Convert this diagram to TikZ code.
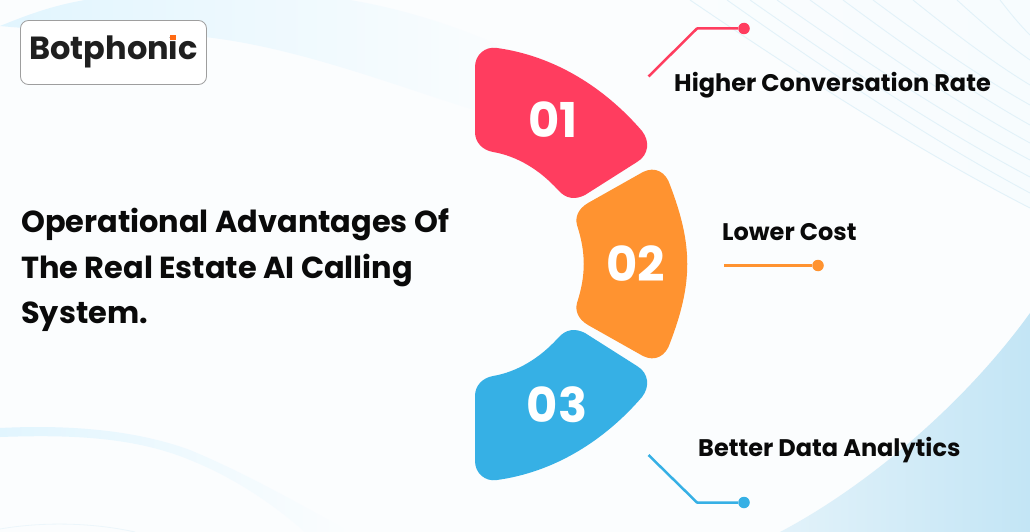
\documentclass[tikz,border=0pt]{standalone}
\usepackage{fontspec}
\setmainfont{Poppins}
\usetikzlibrary{calc}
\definecolor{bgc}{HTML}{FBFDFE}
\definecolor{red1}{HTML}{FF3D5F}
\definecolor{org1}{HTML}{FF9330}
\definecolor{blu1}{HTML}{36B0E5}
\definecolor{swoosh}{HTML}{E1F5FE}
\definecolor{thinl}{HTML}{E2F2F9}
\definecolor{paleb}{HTML}{F7FCFE}
\definecolor{txt}{HTML}{0A0A0A}
\definecolor{brandor}{HTML}{FF6A13}
\tikzset{
  num/.style={font=\fontsize{48}{48}\selectfont\bfseries,text=white,inner sep=0pt},
  lab/.style={font=\fontsize{24}{24}\selectfont\bfseries,text=txt,inner sep=0pt,anchor=base west},
  ttl/.style={font=\fontsize{30.4}{30.4}\selectfont\bfseries,text=txt,inner sep=0pt,anchor=base west},
  dot/.style={circle,minimum size=11.5pt,inner sep=0pt},
  wire/.style={line width=2.5pt,line join=round},
}
\begin{document}
\begin{tikzpicture}[x=1pt,y=-1pt]
\useasboundingbox (0,0) rectangle (1030,532);
\fill[bgc] (0,0) rectangle (1030,532);
% pale upper-right wash
\shade[left color=bgc,middle color=bgc,right color=paleb] (530,0) -- (1030,0) -- (1030,208)
  .. controls (917,150) and (803,77) .. (690,0) -- cycle;
% top swoosh
\shade[left color=swoosh,middle color=swoosh!70!bgc,right color=bgc]
  (0,26) .. controls (25,16) and (50,6) .. (85,0) -- (350,0)
  .. controls (420,12) and (480,35) .. (530,60) -- (530,125)
  .. controls (440,105) and (320,50) .. (205,37) .. controls (130,30) and (60,32) .. (0,26) -- cycle;
% bottom-left swoosh
\shade[left color=swoosh,right color=bgc]
  (0,428) .. controls (60,425) and (130,428) .. (190,450) .. controls (250,475) and (310,510) .. (350,532)
  -- (305,532) .. controls (280,510) and (240,480) .. (190,460) .. controls (130,435) and (60,435) .. (0,437) -- cycle;
\draw[thinl!60!bgc,line width=0.8pt] (0,529) .. controls (40,522) and (90,522) .. (135,532);
% bottom-right region
\definecolor{brl}{HTML}{E2F2FA}
\definecolor{brm}{HTML}{C6E6F6}
\definecolor{brr}{HTML}{C3E5F5}
\shade[left color=brl,middle color=brm,right color=brr]
  (780,532) .. controls (860,490) and (960,410) .. (1030,313) -- (1030,532) -- cycle;
% top-right lines
\foreach \a/\b in {690/208,727/193,750/177,777/160,810/143,843/125,873/105,913/85,957/60,1000/35}{
  \pgfmathsetmacro{\xa}{\a+(1030-\a)/3}
  \pgfmathsetmacro{\xb}{\a+2*(1030-\a)/3}
  \pgfmathsetmacro{\ya}{0.37*\b}
  \pgfmathsetmacro{\yb}{0.72*\b}
  \draw[thinl,line width=0.9pt] (\a,0) .. controls (\xa,\ya) and (\xb,\yb) .. (1030,\b);
}
% logo
\node[draw=black!38,fill=white,rounded corners=8pt,minimum width=186pt,minimum height=64pt,line width=0.8pt,inner sep=0pt] (logo) at (113.5,52.5) {};
\node[font=\fontsize{32}{32}\selectfont\bfseries,text=black!88,inner sep=0pt,anchor=base] (brand) at (113.5,60) {Botphonic};
\fill[white] (168,31) rectangle (178,37.5);
\fill[brandor] (170,35.5) rectangle (175.5,40.5);
% title
\node[ttl] (t1) at (21,232) {Operational Advantages Of};
\node[ttl] (t2) at (21,278) {The Real Estate AI Calling};
\node[ttl] (t3) at (21,323) {System.};
% segments
\fill[red1] (475,67) .. controls (475,55) and (485,46) .. (497,48)
  .. controls (555,56) and (605,88) .. (642,131) .. controls (650,141) and (649,155) .. (637,162)
  -- (585,195) .. controls (575,200) and (566,199) .. (558,190)
  .. controls (540,170) and (517,156) .. (493,152) .. controls (482,150) and (475,142) .. (475,132) -- cycle;
\fill[org1] (588,203) -- (643,172) .. controls (655,166) and (666,172) .. (670,185)
  .. controls (693,245) and (693,283) .. (670,343) .. controls (666,356) and (655,362) .. (643,356)
  -- (588,325) .. controls (578,319) and (575,311) .. (577,303)
  .. controls (586,275) and (586,253) .. (577,225) .. controls (575,217) and (578,209) .. (588,203) -- cycle;
\fill[blu1] (475,461) .. controls (475,473) and (485,482) .. (497,480)
  .. controls (555,472) and (605,440) .. (642,397) .. controls (650,387) and (649,373) .. (637,366)
  -- (585,333) .. controls (575,328) and (566,329) .. (558,338)
  .. controls (540,358) and (517,372) .. (493,376) .. controls (482,378) and (475,386) .. (475,396) -- cycle;
\node[num] (n1) at (553,120) {01};
\node[num] (n2) at (636,264) {02};
\node[num] (n3) at (557,405) {03};
% connectors
\node[dot,fill=red1] (d1) at (744,28.5) {};
\node[dot,fill=org1] (d2) at (818,265.5) {};
\node[dot,fill=blu1] (d3) at (744,502.5) {};
\coordinate (c1) at (648.5,76.5);
\coordinate (c2) at (724,265.5);
\coordinate (c3) at (648.5,455);
\coordinate (e1) at (697,28.5);
\coordinate (e3) at (697,502.5);
\draw[wire,red1] (c1) -- (e1) -- (d1);
\draw[wire,org1] (c2) -- (d2);
\draw[wire,blu1] (c3) -- (e3) -- (d3);
% labels
\node[lab] (l1) at (674,91.5) {Higher Conversation Rate};
\node[lab] (l2) at (722,240.5) {Lower Cost};
\node[lab] (l3) at (698,456.5) {Better Data Analytics};
\end{tikzpicture}
\end{document}
